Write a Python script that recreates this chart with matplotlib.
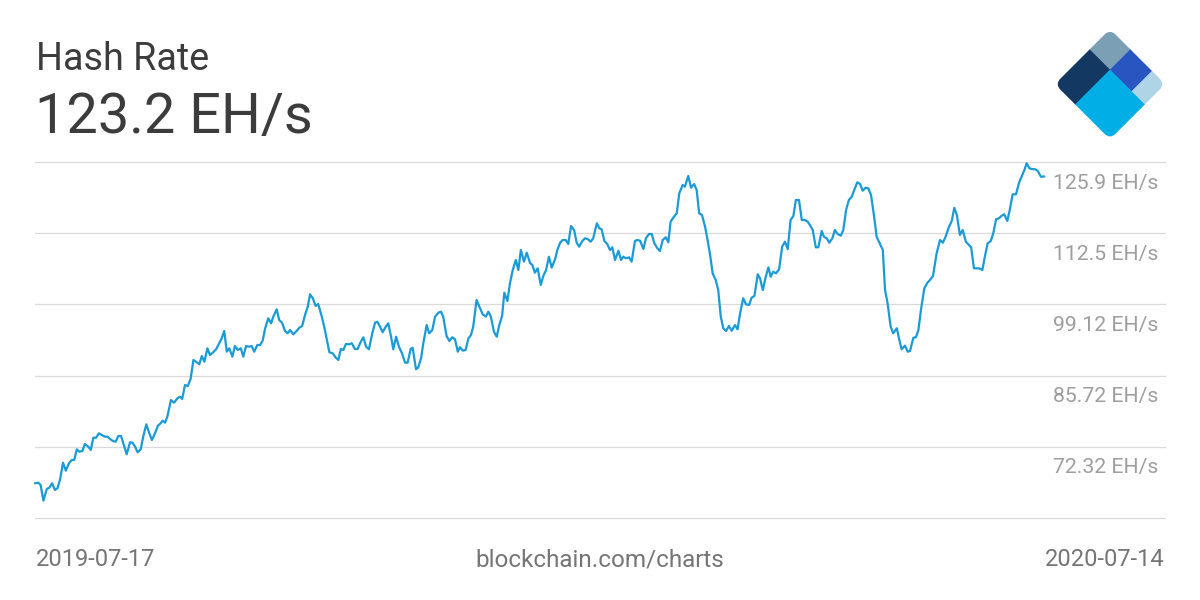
import matplotlib
matplotlib.use("Agg")
import matplotlib.pyplot as plt
from matplotlib.patches import Rectangle, FancyBboxPatch
from matplotlib.transforms import Affine2D
import numpy as np

plt.rcParams['font.family'] = ['Roboto', 'DejaVu Sans']

# ---------------- data ----------------
title = "Hash Rate"
current_value = "123.2 EH/s"
start_label = "2019-07-17"
end_label = "2020-07-14"
source_label = "blockchain.com/charts"

# days since 2019-07-17
days = [
    0, 1.2, 2.0, 3.0, 4.2, 5.1, 6.1, 7.1, 8.0, 8.9,
    10.0, 11.0, 12.1, 13.1, 14.0, 14.9, 15.8, 16.9, 17.8, 19.0,
    19.9, 20.8, 21.8, 22.8, 23.8, 25.0, 25.9, 26.9, 27.8, 28.8,
    29.7, 30.7, 31.5, 32.7, 33.9, 34.8, 35.7, 36.6, 37.7, 38.6,
    39.7, 40.7, 41.7, 42.8, 43.8, 44.8, 45.5, 46.4, 47.2, 48.5,
    49.6, 50.8, 51.7, 52.5, 53.5, 54.5, 55.5, 56.5, 57.4, 58.6,
    59.5, 60.4, 61.5, 62.4, 63.4, 64.6, 65.4, 66.6, 67.5, 68.4,
    69.3, 70.4, 71.3, 72.3, 73.4, 74.3, 75.3, 76.2, 77.3, 78.2,
    79.3, 80.3, 81.2, 82.1, 83.2, 84.2, 85.0, 86.2, 87.1, 88.1,
    89.2, 90.1, 91.0, 92.1, 93.3, 94.3, 95.3, 96.3, 97.3, 98.1,
    99.1, 100.1, 101.0, 102.3, 103.4, 105.0, 106.2, 107.3, 108.2, 109.1,
    110.0, 110.9, 112.0, 113.0, 114.1, 115.1, 116.2, 117.1, 118.1, 119.1,
    120.3, 121.3, 122.1, 123.1, 124.0, 125.1, 126.0, 127.0, 127.8, 128.8,
    129.8, 130.9, 132.0, 132.9, 134.0, 134.7, 135.9, 136.7, 137.7, 138.5,
    139.7, 140.6, 141.7, 142.7, 143.9, 144.8, 145.6, 146.8, 147.8, 148.8,
    149.8, 150.8, 151.6, 152.6, 153.6, 154.6, 155.5, 156.3, 157.5, 158.5,
    159.7, 160.8, 161.7, 162.6, 163.7, 164.7, 165.6, 166.6, 167.4, 168.5,
    169.4, 170.4, 171.5, 172.4, 173.3, 174.4, 175.4, 176.6, 177.4, 178.3,
    179.3, 180.4, 181.3, 182.3, 183.3, 184.3, 185.5, 186.3, 187.3, 188.2,
    189.3, 190.2, 191.2, 192.3, 193.2, 194.1, 195.2, 196.2, 197.1, 198.2,
    199.1, 200.4, 201.3, 202.1, 203.1, 204.1, 205.1, 205.9, 206.9, 208.1,
    209.0, 209.8, 210.8, 211.9, 212.8, 214.0, 214.8, 215.8, 217.0, 217.9,
    219.0, 220.0, 220.9, 222.0, 222.9, 223.9, 225.0, 225.9, 226.7, 227.9,
    228.9, 229.8, 231.0, 231.8, 233.0, 234.0, 235.1, 236.0, 236.9, 237.9,
    239.0, 239.9, 240.8, 241.7, 242.8, 243.7, 244.6, 245.5, 246.5, 247.5,
    248.5, 249.7, 250.6, 251.5, 252.6, 253.6, 254.7, 255.6, 256.6, 257.8,
    258.6, 259.6, 260.6, 261.6, 262.4, 263.3, 264.3, 265.4, 266.5, 267.5,
    268.5, 269.5, 270.5, 271.4, 272.5, 273.5, 274.6, 275.6, 276.4, 277.4,
    278.5, 279.4, 280.6, 281.4, 282.4, 283.3, 284.4, 285.3, 286.3, 287.4,
    288.3, 289.3, 290.3, 291.3, 292.2, 293.3, 294.3, 295.2, 296.3, 297.2,
    298.2, 299.3, 300.2, 301.4, 302.4, 303.2, 304.1, 305.2, 306.1, 307.4,
    308.3, 309.1, 310.3, 311.3, 312.1, 313.3, 314.2, 315.1, 316.0, 317.2,
    318.3, 319.2, 320.3, 321.6, 322.8, 323.8, 324.8, 326.0, 327.0, 327.9,
    328.8, 329.9, 330.9, 332.0, 332.9, 333.9, 334.9, 336.8, 337.9, 338.8,
    339.8, 340.9, 341.8, 342.8, 343.8, 344.8, 345.7, 346.8, 347.8, 348.7,
    349.9, 351.0, 351.9, 352.9, 353.7, 354.7, 355.7, 356.7, 357.6, 358.8,
    360.0,
]

# hash rate, EH/s
hash_rate = [
    65.45, 65.56, 65.13, 62.18, 64.38, 64.62, 65.45, 64.19, 64.51, 66.07,
    69.33, 67.82, 69.22, 69.84, 69.84, 71.85, 71.40, 71.53, 72.85, 72.34,
    71.72, 74.03, 74.03, 74.86, 74.54, 74.22, 74.22, 73.73, 73.41, 73.28,
    74.35, 74.35, 72.98, 70.91, 73.17, 73.09, 72.34, 71.29, 71.85, 74.22,
    76.55, 74.97, 73.60, 74.86, 76.24, 76.74, 77.23, 76.86, 77.99, 81.13,
    80.62, 81.45, 81.75, 81.32, 83.95, 83.76, 85.08, 88.66, 88.34, 87.85,
    89.41, 88.34, 90.86, 89.60, 90.03, 90.67, 91.48, 92.74, 94.11, 90.22,
    90.86, 89.28, 91.29, 90.54, 90.86, 89.28, 91.29, 91.16, 91.29, 90.22,
    91.48, 91.48, 92.29, 94.62, 96.50, 95.56, 96.81, 98.20, 96.18, 95.68,
    94.11, 93.68, 94.30, 93.49, 94.11, 94.74, 95.06, 97.13, 98.69, 101.02,
    100.27, 98.82, 99.20, 96.81, 94.30, 90.11, 89.92, 89.09, 88.66, 90.73,
    90.54, 91.67, 91.61, 91.80, 90.73, 90.73, 92.10, 92.93, 91.16, 90.67,
    93.68, 95.68, 95.86, 94.92, 93.87, 94.92, 95.56, 93.04, 90.67, 93.04,
    91.16, 89.92, 88.15, 88.15, 90.73, 90.97, 86.91, 87.28, 88.98, 91.80,
    95.24, 93.68, 94.30, 96.81, 97.56, 97.75, 96.81, 93.17, 92.23, 92.93,
    92.55, 90.22, 91.05, 90.41, 90.54, 92.74, 93.36, 94.92, 99.95, 98.69,
    97.26, 96.81, 97.75, 96.81, 93.98, 93.04, 95.24, 96.94, 101.32, 99.76,
    103.09, 105.59, 107.48, 105.59, 109.36, 107.16, 108.85, 106.86, 106.54, 105.09,
    105.91, 102.77, 104.47, 105.59, 108.10, 106.03, 107.61, 109.36, 110.73, 111.24,
    111.24, 110.49, 113.88, 113.12, 110.73, 109.98, 111.05, 111.56, 111.43, 110.92,
    111.56, 114.38, 113.44, 113.25, 111.05, 110.49, 109.36, 109.87, 107.48, 109.23,
    107.48, 108.10, 107.80, 107.98, 107.16, 111.05, 111.24, 111.11, 109.55, 111.56,
    112.37, 112.37, 110.62, 109.68, 109.17, 111.24, 111.75, 110.81, 114.68, 115.63,
    116.27, 120.03, 121.59, 121.27, 123.29, 121.08, 121.78, 120.65, 116.27, 115.95,
    113.74, 111.24, 108.42, 104.97, 103.71, 101.83, 96.81, 94.62, 94.11, 95.06,
    94.17, 95.24, 94.43, 97.45, 100.27, 99.14, 99.01, 100.38, 100.70, 104.79,
    104.03, 101.83, 104.22, 106.10, 104.33, 105.27, 104.97, 105.73, 109.98, 110.92,
    109.55, 115.00, 115.76, 118.77, 118.77, 115.00, 115.00, 114.68, 114.06, 113.12,
    109.87, 109.87, 112.93, 111.86, 111.56, 110.73, 111.56, 113.12, 112.37, 112.05,
    113.12, 116.89, 118.77, 119.39, 120.65, 122.10, 121.78, 120.52, 121.08, 120.97,
    119.71, 115.63, 111.86, 110.49, 109.36, 101.83, 99.33, 94.92, 93.68, 94.62,
    92.42, 90.67, 91.35, 90.22, 90.35, 92.85, 92.93, 94.30, 98.07, 102.15,
    103.20, 103.71, 104.47, 108.74, 111.24, 110.73, 111.86, 113.74, 114.82, 117.32,
    115.95, 112.18, 113.12, 110.92, 110.43, 109.87, 105.91, 105.91, 105.59, 108.10,
    110.62, 111.05, 112.50, 115.14, 115.32, 115.81, 116.08, 114.82, 117.21, 119.84,
    119.84, 122.02, 123.15, 124.41, 125.68, 124.73, 124.60, 124.55, 124.28, 123.15,
    123.20,
]

grid_values = [58.92, 72.32, 85.72, 99.12, 112.52, 125.92]
tick_values = [72.32, 85.72, 99.12, 112.52, 125.92]
tick_labels = ["72.32 EH/s", "85.72 EH/s", "99.12 EH/s", "112.5 EH/s", "125.9 EH/s"]

# ---------------- figure ----------------
W, H = 1200, 600
fig = plt.figure(figsize=(12, 6), dpi=100)
fig.patch.set_facecolor("white")

ax = fig.add_axes([35 / W, 1 - 518 / H, 1130 / W, 356 / H])
ax.set_xlim(0, 403.05)
ax.set_ylim(grid_values[0], grid_values[-1])
for s in ax.spines.values():
    s.set_visible(False)
ax.set_xticks([])
ax.set_yticks([])
ax.patch.set_alpha(0)

for v in grid_values:
    ax.axhline(v, color="#dadada", lw=0.9, zorder=1, clip_on=False)

ax.plot(days, hash_rate, color="#1a9ad6", lw=1.6, zorder=3, clip_on=False,
        solid_joinstyle="round", solid_capstyle="round")

for v, lab in zip(tick_values, tick_labels):
    ax.annotate(lab, xy=(1, v), xycoords=("axes fraction", "data"),
                xytext=(-7, -21), textcoords="offset pixels",
                ha="right", va="center", fontsize=15.3, color="#9e9e9e")

# overlay in pixel coordinates for header, footer and logo
ov = fig.add_axes([0, 0, 1, 1])
ov.set_xlim(0, W)
ov.set_ylim(H, 0)
ov.axis("off")
ov.patch.set_alpha(0)

ov.text(36, 70, title, fontsize=27.2, color="#3c3c3c", ha="left", va="baseline")
ov.text(35, 133.5, current_value, fontsize=40.2, color="#3c3c3c", ha="left", va="baseline")
ov.text(36, 566.5, start_label, fontsize=17.0, color="#757575", ha="left", va="baseline")
ov.text(600, 566.5, source_label, fontsize=17.5, color="#757575", ha="center", va="baseline")
ov.text(1165, 566.5, end_label, fontsize=17.0, color="#757575", ha="right", va="baseline")

# logo: rotated rounded square split in five pieces
c = 1 / np.sqrt(2)
S = 78.0
a = 29.0
b = 59.6
tr = Affine2D(np.array([[c, -c, 1110.0], [c, c, 29.0], [0, 0, 1]])) + ov.transData
clip = FancyBboxPatch((0, 0), S, S, boxstyle="round,pad=0,rounding_size=8",
                      transform=tr, facecolor="none", edgecolor="none")
ov.add_patch(clip)
pieces = [
    ((0, 0), a, a, "#7b9fb4"),
    ((0, a), a, S - a, "#133963"),
    ((a, 0), b - a, a, "#2855c0"),
    ((b, 0), S - b, a, "#aed4e6"),
    ((a, a), S - a, S - a, "#02aee6"),
]
for xy, w, h, col in pieces:
    r = Rectangle(xy, w, h, transform=tr, facecolor=col, edgecolor=col, lw=0.4)
    ov.add_patch(r)
    r.set_clip_path(clip)

fig.savefig("out.png", dpi=100, facecolor="white")
